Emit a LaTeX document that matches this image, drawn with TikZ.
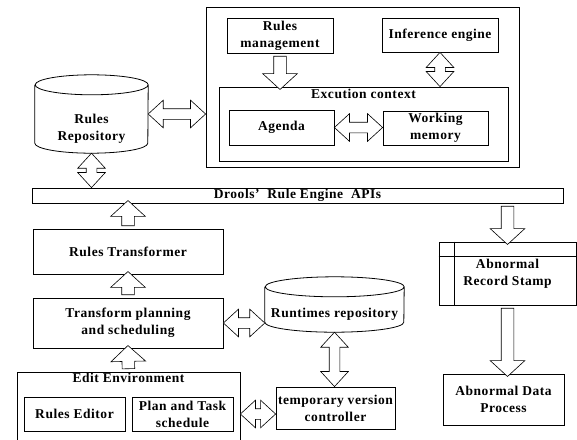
\documentclass[tikz,border=0pt]{standalone}
\usepackage{fontspec}
\setmainfont[LetterSpace=4]{Liberation Serif}
\usetikzlibrary{positioning,calc,shapes.arrows}
\tikzset{
  box/.style={draw, line width=0.8pt, rectangle, inner sep=2pt, align=center},
  txt/.style={font=\bfseries\fontsize{13.5}{17}\selectfont},
  drum/.style={rectangle, inner sep=0pt, align=center},
  blkarrow/.style={draw, fill=white, line width=0.6pt, single arrow, inner xsep=0pt,
    inner ysep=6pt, single arrow head extend=11pt, single arrow tip angle=95,
    single arrow head indent=0pt},
  dblarrow/.style={draw, fill=white, line width=0.6pt, double arrow, inner xsep=0pt,
    inner ysep=5pt, double arrow head extend=8.5pt, double arrow tip angle=85},
}
\newcommand{\blockarrow}[3][blkarrow]{%
  \path let \p1=(#2), \p2=(#3), \n1={veclen(\x2-\x1,\y2-\y1)},
    \n2={atan2(\y2-\y1,\x2-\x1)} in
    node[#1, minimum height=\n1, rotate=\n2] at ($(#2)!0.5!(#3)$) {};}
% outline of a drum round node #1, half width #2
\newcommand{\drumline}[2]{%
  \draw[line width=0.8pt] ([yshift=-10pt]#1.north west) -- ([yshift=10pt]#1.south west)
    arc[start angle=180, end angle=360, x radius=#2, y radius=10pt]
    -- ([yshift=-10pt]#1.north east)
    arc[start angle=0, end angle=360, x radius=#2, y radius=10pt];}
\begin{document}
\begin{tikzpicture}[x=1pt,y=-1pt]
  \clip (0,0) rectangle (577,439);
  \useasboundingbox (0,0) rectangle (577,439);

  \node[box, minimum width=313pt, minimum height=160pt] (kernel) at (362.5,87) {};
  \node[box, txt, minimum width=106pt, minimum height=35pt] (mgmt) at (280,35.5) {Rules\\ management};
  \node[box, txt, minimum width=116pt, minimum height=34pt] (infer) at (440,35) {Inference engine};
  \node[box, minimum width=289pt, minimum height=74pt,
    label={[txt, anchor=north, inner sep=2pt]north:Excution context}] (exec) at (363.5,124) {};
  \node[box, txt, minimum width=105pt, minimum height=35pt] (agenda) at (281.5,127.5) {Agenda};
  \node[box, txt, minimum width=105pt, minimum height=34pt] (memory) at (435.5,128) {Working\\ memory};

  \node[drum, minimum width=113pt, minimum height=78pt,
    label={[txt, align=center, yshift=-15pt]center:{Rules\\ Repository}}] (repo) at (91.5,114) {};
  \drumline{repo}{56.5pt}
  \node[box, txt, minimum width=531pt, minimum height=15pt, inner sep=0pt] (api) at (297.5,195.5) {Drools’~ Rule Engine~ APIs};

  \node[box, txt, minimum width=190pt, minimum height=45pt] (transformer) at (128,251.5) {Rules Transformer};
  \node[box, txt, minimum width=190pt, minimum height=50pt] (planning) at (128,323) {Transform planning\\ and scheduling};
  \node[box, minimum width=223pt, minimum height=76pt,
    label={[txt, anchor=north, inner sep=1pt]north:Edit Environment}] (editenv) at (128.5,410) {};
  \node[box, txt, minimum width=101pt, minimum height=34pt] (editor) at (74.5,414) {Rules Editor};
  \node[box, txt, minimum width=101pt, minimum height=34pt] (plantask) at (182.5,414) {Plan and Task\\ schedule};

  \node[drum, minimum width=139pt, minimum height=55pt,
    label={[txt, yshift=-10pt]center:Runtimes repository}] (runtimes) at (334.5,304.5) {};
  \drumline{runtimes}{69.5pt}
  \node[box, txt, minimum width=115pt, minimum height=42pt] (tempctrl) at (335.5,408) {temporary version\\ controller};

  \node[box, txt, minimum width=137pt, minimum height=63pt] (stamp) at (507.5,273.5) {Abnormal\\ Record Stamp};
  \draw[line width=0.8pt] ([yshift=-15pt]stamp.north west) -- ([yshift=-15pt]stamp.north east);
  \draw[line width=0.8pt] ([xshift=16pt]stamp.north west) -- ([xshift=16pt]stamp.south west);
  \node[box, txt, minimum width=121pt, minimum height=51pt] (abdata) at (503.5,399.5) {Abnormal Data\\ Process};

  \blockarrow[dblarrow]{repo.east}{repo.east -| kernel.west}
  \blockarrow{mgmt.south}{mgmt.south |- exec.north}
  \blockarrow[dblarrow]{infer.south}{infer.south |- exec.north}
  \blockarrow[dblarrow]{agenda.east}{agenda.east -| memory.west}
  \blockarrow[dblarrow]{repo.south}{repo.south |- api.north}
  \blockarrow{transformer.north}{transformer.north |- api.south}
  \blockarrow{planning.north}{transformer.south}
  \blockarrow{editenv.north}{planning.south}
  \blockarrow[dblarrow]{planning.east}{planning.east -| runtimes.west}
  \blockarrow[dblarrow]{runtimes.south}{runtimes.south |- tempctrl.north}
  \blockarrow[dblarrow]{tempctrl.west |- editor}{tempctrl.west |- editor -| editenv.east}
  \blockarrow{stamp.north |- api.south}{stamp.north}
  \blockarrow{stamp.south}{stamp.south |- abdata.north}
\end{tikzpicture}
\end{document}
